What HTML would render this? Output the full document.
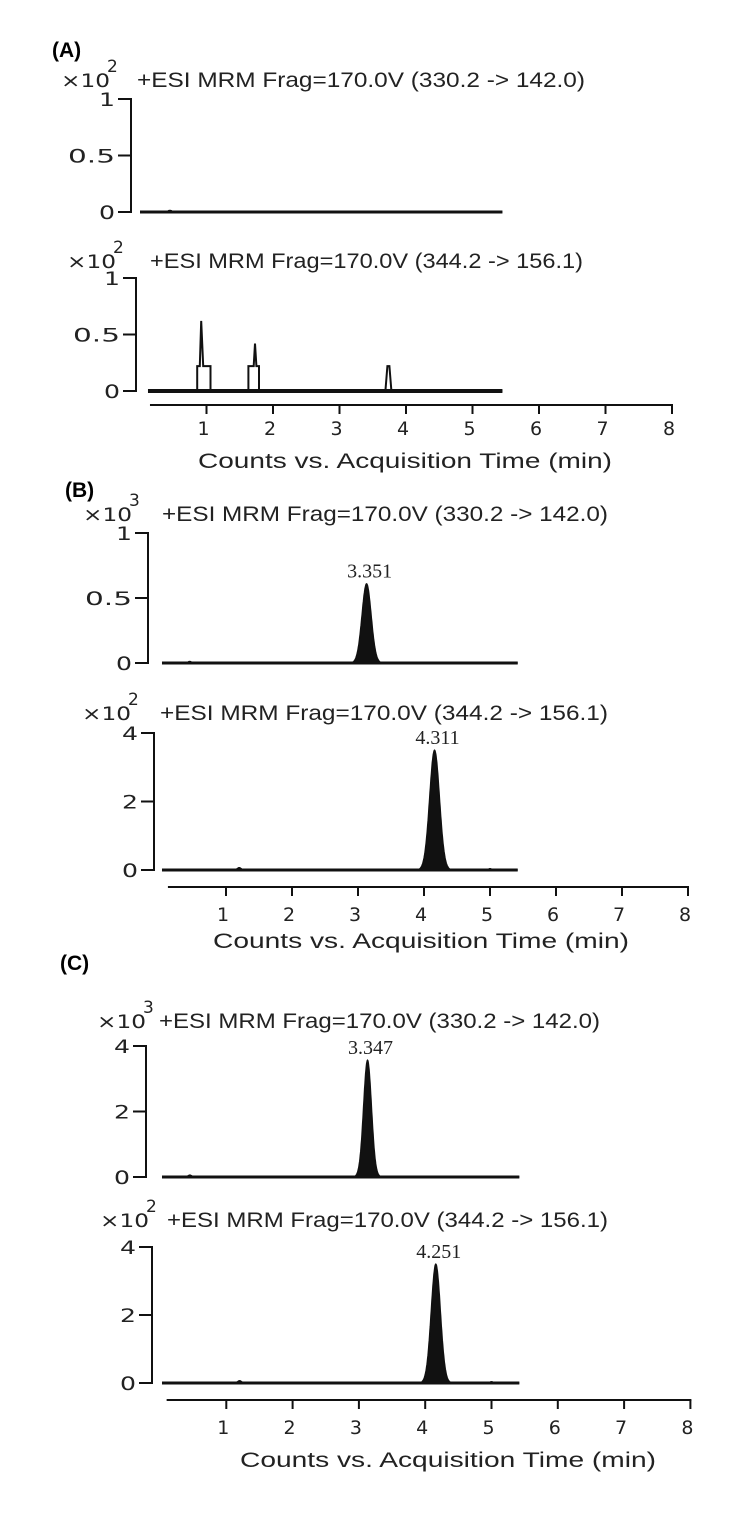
<!DOCTYPE html>
<html><head><meta charset="utf-8">
<style>
html,body{margin:0;padding:0;background:#fff;}
svg{display:block;}
</style></head>
<body>
<svg id="fig" width="729" height="1515" viewBox="0 0 729 1515" xmlns="http://www.w3.org/2000/svg"></svg>
<script>
// ---------- data ----------
const xTickValues = [1, 2, 3, 4, 5, 6, 7, 8];
const xTickLabels = ["1", "2", "3", "4", "5", "6", "7", "8"];
const xAxisTitle = "Counts vs. Acquisition Time (min)";
const panelLetters = ["(A)", "(B)", "(C)"];
const transitionLabels = ["+ESI MRM Frag=170.0V (330.2 -> 142.0)", "+ESI MRM Frag=170.0V (344.2 -> 156.1)"];
const exponents = ["2", "2", "3", "2", "3", "2"];
const yMaxValues = [1, 1, 1, 4, 4, 4];
const yTickSets = [[0, 0.5, 1], [0, 0.5, 1], [0, 0.5, 1], [0, 2, 4], [0, 2, 4], [0, 2, 4]];
const yTickLabelSets = [["0", "0.5", "1"], ["0", "0.5", "1"], ["0", "0.5", "1"], ["0", "2", "4"], ["0", "2", "4"], ["0", "2", "4"]];
// peak data: retention time, height, sigma
const peakTimes = [[], [], [3.13], [4.16], [3.13], [4.16]];
const peakHeights = [[], [], [0.61], [3.5], [3.57], [3.5]];
const peakSigmas = [[], [], [0.07], [0.075], [0.06], [0.07]];
const peakLabels = [[], [], ["3.351"], ["4.311"], ["3.347"], ["4.251"]];
// small bumps
const bumpTimes = [[0.45], [1.2], [0.45, 3.85], [1.2, 5.0], [0.45], [1.2, 5.0]];
const bumpHeights = [[0.015], [0.02], [0.012, 0.004], [0.07, 0.04], [0.06], [0.07, 0.04]];
// A2 trace (explicit points)
const a2Times = [0.12, 0.86, 0.86, 0.9, 0.92, 0.95, 1.0, 1.0, 1.06, 1.06, 1.63, 1.63, 1.71, 1.73, 1.75, 1.79, 1.79, 3.69, 3.72, 3.75, 3.78, 5.45];
const a2Values = [0, 0, 0.22, 0.22, 0.62, 0.22, 0.22, 0.22, 0.22, 0, 0, 0.22, 0.22, 0.42, 0.22, 0.22, 0, 0, 0.22, 0.22, 0, 0];
const traceStart = [0.0, 0.12, 0.03, 0.03, 0.03, 0.03];
const traceEnd = [5.45, 5.45, 5.42, 5.42, 5.42, 5.42];

// ---------- layout ----------
const svg = document.getElementById('fig');
const NS = 'http://www.w3.org/2000/svg';
function mk(tag, attrs, parent) {
  const e = document.createElementNS(NS, tag);
  for (const k in attrs) e.setAttribute(k, attrs[k]);
  (parent || svg).appendChild(e);
  return e;
}
const panels = [
  {x0: 140, k: 66.5, axisY: 405, lblY: 435, titleY: 468, titleX: 198, titleW: 414, axStart: 0.15, letterX: 52, letterY: 57},
  {x0: 160, k: 66, axisY: 887, lblY: 921, titleY: 948, titleX: 213, titleW: 416, axStart: 0.12, letterX: 65, letterY: 497},
  {x0: 160, k: 66.3, axisY: 1400, lblY: 1434, titleY: 1467, titleX: 240, titleW: 416, axStart: 0.1, letterX: 60, letterY: 970}
];
const plots = [
  {panel: 0, axX: 131, top: 99, zero: 212, hdrY: 87, xX: 61, xT: 137, xEnd: 585, tr: 0},
  {panel: 0, axX: 136, top: 278, zero: 391, hdrY: 268, xX: 67, xT: 150, xEnd: 583, tr: 1},
  {panel: 1, axX: 148, top: 533, zero: 663, hdrY: 521, xX: 83, xT: 162, xEnd: 608, tr: 0},
  {panel: 1, axX: 154, top: 733, zero: 870, hdrY: 720, xX: 82, xT: 160, xEnd: 608, tr: 1},
  {panel: 2, axX: 146, top: 1046, zero: 1177, hdrY: 1028, xX: 97, xT: 159, xEnd: 600, tr: 0},
  {panel: 2, axX: 152, top: 1247, zero: 1383, hdrY: 1227, xX: 100, xT: 167, xEnd: 608, tr: 1}
];
const sans = '"Liberation Sans", sans-serif';
const dv = '"DejaVu Sans", "Liberation Sans", sans-serif';

panels.forEach((p, i) => {
  const xs = t => p.x0 + p.k * t;
  const g = mk('g', {});
  
  
  const L = mk('text', {x: p.letterX, y: p.letterY, 'font-family': sans, 'font-size': 21, 'font-weight': 'bold'}, svg);
  L.textContent = panelLetters[i];
  
  
  mk('line', {x1: xs(p.axStart), x2: xs(8) + 1, y1: p.axisY, y2: p.axisY, stroke: '#111', 'stroke-width': 2}, g);
  xTickValues.forEach((v, j) => {
    mk('line', {x1: xs(v), x2: xs(v), y1: p.axisY, y2: p.axisY + 9, stroke: '#111', 'stroke-width': 2}, g);
    const t = mk('text', {x: xs(v) - 3, y: p.lblY, 'font-family': dv, 'font-size': 19, 'text-anchor': 'middle', fill: '#222'}, g);
    t.textContent = xTickLabels[j];
    
    
  });
  const tt = mk('text', {x: p.titleX, y: p.titleY, 'font-family': sans, 'font-size': 21, textLength: p.titleW, lengthAdjust: 'spacingAndGlyphs', fill: '#222'}, g);
  tt.textContent = xAxisTitle;
  
  
});

plots.forEach((pl, i) => {
  const p = panels[pl.panel];
  const xs = t => p.x0 + p.k * t;
  const ys = v => pl.zero - (pl.zero - pl.top) * v / yMaxValues[i];
  const g = mk('g', {});
  
  
  const h1 = mk('text', {x: pl.xX, y: pl.hdrY, 'font-family': dv, 'font-size': 19, textLength: 49, lengthAdjust: 'spacingAndGlyphs', fill: '#222'}, g);
  h1.textContent = '×10';
  
  
  const h2 = mk('text', {x: pl.xX + 46, y: pl.hdrY - 15, 'font-family': dv, 'font-size': 17, fill: '#222'}, g);
  h2.textContent = exponents[i];
  
  
  const h3 = mk('text', {x: pl.xT, y: pl.hdrY, 'font-family': sans, 'font-size': 21, textLength: pl.xEnd - pl.xT, lengthAdjust: 'spacingAndGlyphs', fill: '#222'}, g);
  h3.textContent = transitionLabels[pl.tr];
  
  
  mk('line', {x1: pl.axX, x2: pl.axX, y1: pl.top - 1, y2: pl.zero + 1, stroke: '#111', 'stroke-width': 2}, g);
  yTickSets[i].forEach((v, j) => {
    mk('line', {x1: pl.axX - 13, x2: pl.axX, y1: ys(v), y2: ys(v), stroke: '#111', 'stroke-width': 2}, g);
    const lab = yTickLabelSets[i][j];
    const w = lab.length === 1 ? 16 : 47;
    const t = mk('text', {x: pl.axX - 16 - w, y: ys(v) + 7, 'font-family': dv, 'font-size': 19, textLength: w, lengthAdjust: 'spacingAndGlyphs', fill: '#222'}, g);
    t.textContent = lab;
    
    
  });
  if (i === 1) {
    const pts = a2Times.map((t, j) => xs(t).toFixed(1) + ',' + ys(a2Values[j]).toFixed(1)).join(' ');
    const pth = mk('polyline', {points: pts, fill: 'none', stroke: '#111', 'stroke-width': 2}, g);
    
    
    mk('line', {x1: xs(traceStart[i]), x2: xs(traceEnd[i]), y1: ys(0), y2: ys(0), stroke: '#111', 'stroke-width': 4}, g);
  } else {
    const pts = [];
    for (let t = traceStart[i]; t <= traceEnd[i] + 1e-9; t += 0.005) {
      let v = 0;
      peakTimes[i].forEach((pt, j) => { v += peakHeights[i][j] * Math.exp(-0.5 * Math.pow((t - pt) / peakSigmas[i][j], 2)); });
      bumpTimes[i].forEach((bt, j) => { v += bumpHeights[i][j] * Math.exp(-0.5 * Math.pow((t - bt) / 0.03, 2)); });
      pts.push([xs(t), ys(v)]);
    }
    let d = 'M' + pts[0][0].toFixed(1) + ',' + ys(0).toFixed(1);
    pts.forEach(q => { d += ' L' + q[0].toFixed(1) + ',' + q[1].toFixed(1); });
    d += ' L' + pts[pts.length - 1][0].toFixed(1) + ',' + ys(0).toFixed(1) + ' Z';
    const pth = mk('path', {d: d, fill: '#111', stroke: '#111', 'stroke-width': 1.2}, g);
    
    
    mk('line', {x1: xs(traceStart[i]), x2: xs(traceEnd[i]), y1: ys(0), y2: ys(0), stroke: '#111', 'stroke-width': 3}, g);
    peakTimes[i].forEach((pt, j) => {
      const lb = mk('text', {x: xs(pt) + 3, y: ys(peakHeights[i][j]) - 6, 'font-family': '"Liberation Serif", serif', 'font-size': 20, 'text-anchor': 'middle', fill: '#222'}, g);
      lb.textContent = peakLabels[i][j];
      
      
    });
  }
});
</script>
</body></html>
